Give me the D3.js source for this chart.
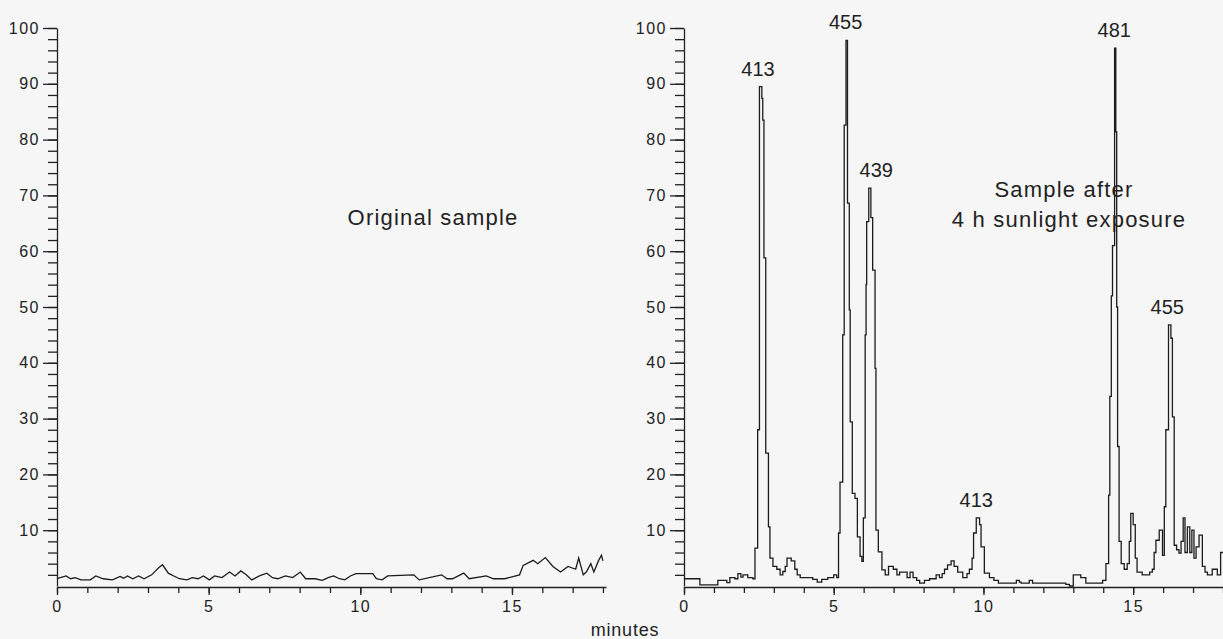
<!DOCTYPE html>
<html>
<head>
<meta charset="utf-8">
<script src="https://cdn.jsdelivr.net/npm/d3@7"></script>
<style>
  body { margin: 0; background: #f6f6f6; }
  svg { display: block; }
  .axis path, .axis line { stroke: #222; stroke-width: 1.3; }
  .axis text { font-family: 'Liberation Sans', Arial, sans-serif; font-size: 16px; letter-spacing: 1.5px; fill: #222; }
</style>
</head>
<body>
<div id="chart"></div>
<script>
// original sample trace (minutes, % intensity)
var leftTimes = [0, 0.3, 0.45, 0.6, 0.79, 1.1, 1.28, 1.52, 1.83, 2.08, 2.2, 2.32, 2.5, 2.69, 2.87,
  3.12, 3.36, 3.48, 3.67, 3.85, 4.04, 4.28, 4.46, 4.65, 4.83, 5.02, 5.2, 5.44, 5.69, 5.87,
  6.06, 6.24, 6.42, 6.67, 6.92, 7.1, 7.28, 7.53, 7.77, 8.02, 8.2, 8.51, 8.75, 8.94, 9.12,
  9.31, 9.49, 9.67, 9.86, 10.41, 10.53, 10.72, 10.9, 11.76, 11.94, 12.68, 12.86, 13.04, 13.23,
  13.41, 13.59, 14.15, 14.39, 14.76, 15.25, 15.37, 15.7, 15.85, 16.1, 16.35, 16.6, 16.85,
  17.1, 17.2, 17.35, 17.45, 17.6, 17.7, 17.85, 17.95, 18.0]
var leftValues = [1.3, 1.8, 1.3, 1.5, 1.1, 1.1, 1.8, 1.3, 1.1, 1.7, 1.4, 1.8, 1.3, 1.8, 1.3,
  2.0, 3.3, 3.8, 2.3, 1.8, 1.3, 1.1, 1.5, 1.3, 1.8, 1.1, 1.8, 1.5, 2.5, 1.8,
  2.7, 2.0, 1.1, 1.8, 2.3, 1.5, 1.3, 1.8, 1.5, 2.5, 1.3, 1.3, 1.0, 1.5, 1.8,
  1.3, 1.1, 1.8, 2.2, 2.2, 1.3, 1.1, 1.8, 2.0, 1.1, 2.0, 1.3, 1.3, 1.8,
  2.3, 1.3, 1.8, 1.3, 1.3, 2.0, 3.7, 4.6, 4.0, 5.1, 3.5, 2.5, 3.5,
  3.0, 5.0, 2.0, 2.5, 4.0, 2.5, 4.5, 5.5, 4.5]

// sample after sunlight exposure
var rightTimes = [0, 0.53, 1.13, 1.43, 1.53, 1.7, 1.8, 1.9, 1.97, 2.13, 2.3, 2.37, 2.46, 2.52, 2.6,
  2.63, 2.67, 2.73, 2.82, 2.87, 2.97, 3.1, 3.21, 3.3, 3.38, 3.44, 3.58, 3.7, 3.78, 3.88,
  4.1, 4.3, 4.45, 4.6, 4.8, 5.0, 5.1, 5.16, 5.21, 5.3, 5.35, 5.41, 5.46, 5.52, 5.55,
  5.62, 5.71, 5.79, 5.88, 5.94, 5.99, 6.05, 6.08, 6.1, 6.17, 6.24, 6.3, 6.38, 6.41, 6.49,
  6.61, 6.72, 6.83, 6.99, 7.11, 7.2, 7.33, 7.45, 7.55, 7.65, 7.77, 7.87, 8.03, 8.2, 8.42,
  8.53, 8.62, 8.7, 8.8, 8.92, 9.02, 9.14, 9.31, 9.45, 9.53, 9.62, 9.67, 9.76, 9.87, 9.92,
  10.03, 10.2, 10.35, 10.5, 10.87, 11.1, 11.2, 11.26, 11.53, 11.64, 12.75, 12.87, 13.0, 13.25,
  13.42, 13.76, 13.98, 14.09, 14.18, 14.22, 14.27, 14.31, 14.38, 14.42, 14.45, 14.48, 14.53,
  14.6, 14.7, 14.8, 14.87, 14.92, 15.0, 15.07, 15.13, 15.3, 15.42, 15.55, 15.64, 15.7, 15.76,
  15.87, 15.98, 16.04, 16.09, 16.18, 16.26, 16.31, 16.37, 16.45, 16.53, 16.6, 16.67, 16.73,
  16.81, 16.89, 16.96, 17.03, 17.1, 17.2, 17.31, 17.4, 17.48, 17.64, 17.81, 17.92, 18.1]
var rightValues = [1.3, 0.2, 1.0, 0.6, 1.5, 1.3, 2.2, 1.6, 2.0, 1.5, 1.3, 6.8, 28, 89.5, 87.4,
  83.5, 58.8, 23.8, 10.6, 5, 3.5, 3, 2, 2.6, 3.5, 5, 4.5, 3, 2, 1.5,
  1.5, 1.2, 0.7, 1.2, 1.5, 2, 1.5, 9.5, 18.6, 45, 82.6, 97.8, 68.6, 49.5, 29.4,
  16.6, 15.7, 8.8, 5.3, 4.4, 12.2, 45, 54, 65.3, 71.3, 66, 56.6, 39, 10, 6.1,
  2.9, 2, 3.5, 3, 2, 2.5, 2.5, 1.5, 2.5, 1.5, 1, 0.5, 1, 1.3, 2,
  1.5, 2.2, 3, 3.8, 4.5, 3.5, 2.5, 1.5, 2.2, 3, 5, 9.5, 12.2, 11, 7,
  2.3, 1.5, 1, 0.5, 0.5, 1, 0.7, 0.5, 1, 0.5, 0.3, 0, 2, 1.5,
  0.5, 0.5, 1, 4, 16.3, 34, 52, 61, 96.4, 81.4, 50, 25, 8,
  4, 3, 4, 8, 13, 11, 5, 2.5, 2, 2, 2.5, 3, 6, 8.2,
  10, 5.5, 14.2, 28, 46.8, 44.4, 30.3, 7.3, 6.5, 5.9, 8, 12.2, 6,
  10.6, 6, 10, 5, 7, 9.1, 3.5, 2.5, 2, 3, 2, 6, 6]

// peak labels (mass numbers) on the right trace
var peakLabels = ['413', '455', '439', '413', '481', '455']
var peakTimes = [2.47, 5.4, 6.42, 9.76, 14.37, 16.14]
var peakHeights = [89.5, 97.8, 71.3, 12.2, 96.4, 46.8]

var yTicksMajor = [10, 20, 30, 40, 50, 60, 70, 80, 90, 100]
var xTicksMajor = [0, 5, 10, 15]

var width = 1223
var height = 639

var svg = d3.select('#chart')
  .append('svg')
  .attr('width', width)
  .attr('height', height)

svg.append('rect')
  .attr('width', width)
  .attr('height', height)
  .attr('fill', '#f6f6f6')

var yPositionScale = d3.scaleLinear()
  .domain([0, 100])
  .range([586, 28])

// the two panels share the y scale, each has its own x scale
var panels = [
  { times: leftTimes, values: leftValues, x: d3.scaleLinear().domain([0, 18.1]).range([57, 606]), curve: d3.curveLinear },
  { times: rightTimes, values: rightValues, x: d3.scaleLinear().domain([0, 18.1]).range([684, 1226]), curve: d3.curveStepAfter }
]

var yMinor = d3.range(2, 101, 2)
var xMinor = d3.range(0, 19, 1)

panels.forEach(function(p) {
  var g = svg.append('g')
  var x0 = p.x(0)

  // y axis: minor ticks every 2, longer labelled ticks every 10
  g.append('g')
    .attr('class', 'axis')
    .attr('transform', 'translate(' + x0 + ',0)')
    .call(d3.axisLeft(yPositionScale).tickValues(yMinor).tickSize(9).tickSizeOuter(0).tickFormat(''))
  g.append('g')
    .attr('class', 'axis')
    .attr('transform', 'translate(' + x0 + ',0)')
    .call(d3.axisLeft(yPositionScale).tickValues(yTicksMajor).tickSize(14).tickSizeOuter(0).tickPadding(3))
    .call(function(a) { a.select('.domain').remove() })

  // x axis
  g.append('g')
    .attr('class', 'axis')
    .attr('transform', 'translate(0,' + (yPositionScale(0) + 1) + ')')
    .call(d3.axisBottom(p.x).tickValues(xMinor).tickSize(6).tickSizeOuter(0).tickFormat(''))
  g.append('g')
    .attr('class', 'axis')
    .attr('transform', 'translate(0,' + (yPositionScale(0) + 1) + ')')
    .call(d3.axisBottom(p.x).tickValues(xTicksMajor).tickSize(8).tickSizeOuter(0).tickPadding(6))
    .call(function(a) { a.select('.domain').remove() })

  var line = d3.line()
    .x(function(d, i) { return p.x(p.times[i]) })
    .y(function(d) { return yPositionScale(d) })
    .curve(p.curve)

  g.append('path')
    .datum(p.values)
    .attr('d', line)
    .attr('fill', 'none')
    .attr('stroke', '#1c1c1c')
    .attr('stroke-width', 1.3)
})

var xRight = panels[1].x

// peak labels
svg.selectAll('.peak')
  .data(peakLabels)
  .enter()
  .append('text')
  .attr('class', 'peak')
  .text(function(d) { return d })
  .attr('x', function(d, i) { return xRight(peakTimes[i]) })
  .attr('y', function(d, i) { return yPositionScale(peakHeights[i]) - 11 })
  .attr('text-anchor', 'middle')
  .attr('font-family', 'Liberation Sans, Arial, sans-serif')
  .attr('font-size', 20)
  .attr('fill', '#222')

// annotations
var notes = [
  { text: 'Original sample', x: 433, y: 225 },
  { text: 'Sample after', x: 1064, y: 197 },
  { text: '4 h sunlight exposure', x: 1069, y: 227 }
]
svg.selectAll('.note')
  .data(notes)
  .enter()
  .append('text')
  .attr('class', 'note')
  .text(function(d) { return d.text })
  .attr('x', function(d) { return d.x })
  .attr('y', function(d) { return d.y })
  .attr('text-anchor', 'middle')
  .attr('font-family', 'Liberation Sans, Arial, sans-serif')
  .attr('font-size', 22)
  .attr('letter-spacing', 1.2)
  .attr('fill', '#222')

svg.append('text')
  .text('minutes')
  .attr('x', 625)
  .attr('y', 636)
  .attr('text-anchor', 'middle')
  .attr('font-family', 'Liberation Sans, Arial, sans-serif')
  .attr('font-size', 18)
  .attr('letter-spacing', 0.8)
  .attr('fill', '#222')
</script>
</body>
</html>
